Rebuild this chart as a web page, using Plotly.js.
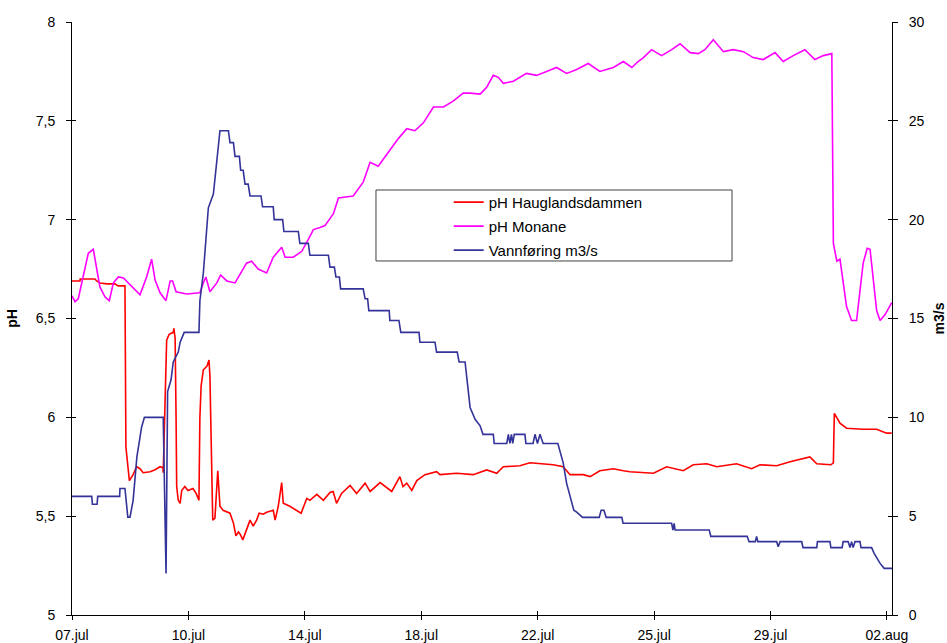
<!DOCTYPE html>
<html>
<head>
<meta charset="utf-8">
<script src="https://cdn.plot.ly/plotly-3.0.1.min.js"></script>
<style>html,body{margin:0;padding:0;background:#fff;}#chart{width:947px;height:643px;}</style>
</head>
<body>
<div id="chart"></div>
<script>
// x values: days since start of record (07.jul, early morning)
const tickDays = [0, 26/7, 52/7, 78/7, 104/7, 130/7, 156/7, 26];
const tickLabels = ["07.jul", "10.jul", "14.jul", "18.jul", "22.jul", "25.jul", "29.jul", "02.aug"];

const phLeftVals = [5, 5.5, 6, 6.5, 7, 7.5, 8];
const phLeftText = ["5", "5,5", "6", "6,5", "7", "7,5", "8"];
const flowVals = [0, 5, 10, 15, 20, 25, 30];

// pH Hauglandsdammen
const haugDays = [0,0.255,0.26,0.73,0.79,0.89,1.12,1.37,1.47,1.69,1.72,1.83,1.95,2.06,2.17,2.27,2.49,2.65,2.81,2.90,2.91,2.99,3.02,3.10,3.23,3.25,3.29,3.32,3.34,3.39,3.45,3.50,3.60,3.70,3.86,3.96,4.05,4.08,4.12,4.19,4.31,4.37,4.40,4.49,4.56,4.65,4.72,4.82,4.94,5.04,5.15,5.23,5.31,5.36,5.45,5.57,5.68,5.78,5.89,5.97,6.10,6.21,6.42,6.48,6.58,6.69,6.74,6.95,7.17,7.31,7.49,7.59,7.81,8.02,8.23,8.33,8.44,8.60,8.87,9.08,9.35,9.51,9.83,9.99,10.20,10.46,10.56,10.68,10.84,11.00,11.26,11.63,11.74,12.27,12.80,13.23,13.55,13.76,14.29,14.61,15.35,15.67,15.89,16.31,16.53,16.84,17.27,17.59,17.80,18.55,18.97,19.50,19.82,20.25,20.57,21.20,21.68,21.95,22.48,22.91,23.54,23.76,24.21,24.29,24.32,24.50,24.71,25.24,25.67,25.99,26.15];
const haugPH = [6.69,6.69,6.70,6.70,6.69,6.68,6.675,6.675,6.665,6.665,5.85,5.68,5.71,5.75,5.74,5.72,5.725,5.735,5.75,5.745,5.72,6.32,6.39,6.42,6.43,6.45,6.40,6.0,5.65,5.58,5.565,5.63,5.65,5.63,5.64,5.615,5.58,6.0,6.16,6.24,6.26,6.29,6.21,5.48,5.49,5.73,5.55,5.53,5.52,5.515,5.465,5.40,5.42,5.41,5.38,5.43,5.48,5.45,5.48,5.515,5.51,5.52,5.53,5.48,5.55,5.67,5.565,5.55,5.53,5.515,5.59,5.58,5.61,5.58,5.62,5.625,5.565,5.615,5.655,5.615,5.667,5.625,5.67,5.65,5.625,5.70,5.65,5.667,5.63,5.68,5.71,5.725,5.71,5.717,5.71,5.734,5.717,5.75,5.755,5.77,5.76,5.75,5.71,5.71,5.70,5.73,5.74,5.73,5.725,5.717,5.75,5.73,5.76,5.765,5.75,5.765,5.74,5.76,5.755,5.775,5.80,5.765,5.76,5.77,6.02,5.97,5.945,5.94,5.94,5.92,5.92];

// pH Monane
const monDays = [0,0.096,0.20,0.36,0.52,0.68,0.79,0.89,1.05,1.19,1.32,1.48,1.64,1.85,2.17,2.38,2.54,2.65,2.81,3.00,3.13,3.21,3.32,3.66,4.08,4.19,4.27,4.40,4.62,4.74,4.94,5.20,5.57,5.73,5.94,6.21,6.42,6.69,6.80,7.06,7.33,7.54,7.70,7.91,8.07,8.34,8.50,8.97,9.29,9.51,9.77,10.04,10.41,10.68,10.94,11.21,11.53,11.85,12.16,12.48,12.70,13.02,13.23,13.44,13.60,13.76,14.08,14.50,14.82,15.14,15.46,15.78,16.10,16.47,16.84,17.27,17.59,17.86,18.06,18.23,18.49,18.81,19.13,19.40,19.72,19.98,20.19,20.46,20.62,20.78,21.10,21.42,21.73,22.05,22.43,22.69,23.01,23.38,23.70,23.97,24.24,24.29,24.40,24.50,24.71,24.87,25.03,25.24,25.37,25.46,25.67,25.78,25.94,26.10,26.15];
const monPH = [6.614,6.585,6.60,6.71,6.83,6.85,6.76,6.66,6.61,6.59,6.68,6.71,6.705,6.67,6.62,6.71,6.80,6.695,6.63,6.59,6.69,6.69,6.635,6.624,6.63,6.68,6.71,6.635,6.68,6.72,6.69,6.68,6.78,6.79,6.75,6.73,6.81,6.86,6.81,6.81,6.84,6.90,6.95,6.96,6.97,7.03,7.11,7.12,7.19,7.29,7.27,7.33,7.41,7.46,7.45,7.49,7.57,7.57,7.60,7.64,7.64,7.635,7.67,7.73,7.72,7.69,7.70,7.74,7.73,7.75,7.77,7.74,7.76,7.79,7.75,7.77,7.80,7.77,7.80,7.82,7.86,7.83,7.86,7.89,7.845,7.84,7.86,7.91,7.88,7.85,7.86,7.85,7.82,7.81,7.845,7.80,7.83,7.86,7.81,7.83,7.84,6.88,6.79,6.80,6.56,6.49,6.49,6.78,6.855,6.85,6.54,6.49,6.52,6.57,6.58];

// Vannføring m3/s
const flowDays = [0,0.63,0.65,0.80,0.82,1.52,1.53,1.69,1.78,1.85,1.95,2.07,2.22,2.31,2.91,3.00,3.05,3.16,3.23,3.39,3.45,3.58,4.05,4.08,4.19,4.35,4.51,4.72,4.99,5.04,5.15,5.20,5.34,5.38,5.46,5.52,5.62,5.68,6.03,6.08,6.42,6.45,6.72,6.76,7.22,7.27,7.54,7.59,8.18,8.23,8.37,8.42,8.53,8.57,9.29,9.35,9.43,9.47,10.12,10.14,10.43,10.49,11.07,11.10,11.58,11.63,12.29,12.35,12.54,12.70,12.86,13.02,13.11,13.44,13.47,13.87,13.92,13.97,14.02,14.06,14.11,14.16,14.45,14.48,14.71,14.77,14.85,14.93,15.03,15.50,15.67,15.78,15.94,16.01,16.10,16.29,16.82,16.88,16.97,17.04,17.54,17.58,19.13,19.17,19.21,19.24,20.33,20.38,21.54,21.60,21.80,21.84,21.88,22.48,22.53,22.59,23.28,23.32,23.76,23.78,24.18,24.21,24.57,24.60,24.76,24.82,24.87,24.92,24.98,25.14,25.17,25.51,25.59,25.69,25.78,25.91,26.16];
const flowVal = [6.0,6.0,5.6,5.6,6.0,6.0,6.4,6.4,4.95,4.95,5.8,8.0,9.5,10.0,10.0,2.1,11.3,11.9,12.8,13.3,13.8,14.3,14.3,15.9,17.3,20.6,21.3,24.5,24.5,23.9,23.9,23.2,23.2,22.5,22.5,21.8,21.8,21.2,21.2,20.65,20.65,20.0,20.0,19.4,19.4,18.8,18.8,18.2,18.2,17.6,17.6,17.1,17.1,16.5,16.5,16.0,16.0,15.4,15.4,14.9,14.9,14.3,14.3,13.8,13.8,13.3,13.3,12.8,12.8,10.5,9.9,9.57,9.14,9.14,8.68,8.68,9.14,8.68,9.14,8.68,9.14,9.14,9.14,8.68,8.68,9.14,8.68,9.14,8.68,8.68,7.7,6.66,5.73,5.3,5.2,4.94,4.94,5.3,5.3,4.94,4.94,4.64,4.64,4.3,4.64,4.3,4.3,3.98,3.98,3.71,3.71,3.98,3.71,3.71,3.45,3.71,3.71,3.41,3.41,3.71,3.71,3.41,3.41,3.71,3.71,3.41,3.71,3.41,3.71,3.71,3.41,3.41,3.12,2.87,2.61,2.36,2.36];

const FONT = "Liberation Sans, Arial, sans-serif";
const xRange = [0, 26.16];

const traces = [
  {x: haugDays, y: haugPH, type: "scatter", mode: "lines", name: "pH Hauglandsdammen",
   line: {color: "#FF0000", width: 1.6}, legendgroup: "a", xaxis: "x", yaxis: "y"},
  {x: monDays, y: monPH, type: "scatter", mode: "lines", name: "pH Monane",
   line: {color: "#FF00FF", width: 1.6}, legendgroup: "b", xaxis: "x", yaxis: "y"},
  {x: flowDays, y: flowVal, type: "scatter", mode: "lines", name: "Vannføring m3/s",
   line: {color: "#333399", width: 1.6}, legendgroup: "c", xaxis: "x", yaxis: "y2"},
  // empty helpers so that the inner-tick axes are drawn
  {x: [], y: [], xaxis: "x2", yaxis: "y3", showlegend: false, hoverinfo: "skip"},
  {x: [], y: [], xaxis: "x2", yaxis: "y4", showlegend: false, hoverinfo: "skip"}
];

const tickFont = {family: FONT, size: 14, color: "#000"};

const layout = {
  width: 947, height: 643,
  margin: {l: 72, r: 55, t: 22, b: 28, pad: 0},
  paper_bgcolor: "#fff", plot_bgcolor: "#fff",
  font: {family: FONT, size: 14, color: "#000"},
  showlegend: true,
  legend: {x: 0.4594, xanchor: "left", y: 0.7237, yanchor: "top",
           bgcolor: "rgba(0,0,0,0)", borderwidth: 0, tracegroupgap: 1.5,
           font: {family: FONT, size: 15, color: "#000"}},
  xaxis: {range: xRange, tickmode: "array", tickvals: tickDays, ticktext: tickLabels,
          ticks: "outside", ticklen: 4, tickwidth: 1, tickcolor: "#000", ticklabelstandoff: 3,
          showline: true, linecolor: "#000", linewidth: 1, showgrid: false, zeroline: false,
          tickfont: tickFont, automargin: false, anchor: "y"},
  xaxis2: {range: xRange, overlaying: "x", anchor: "y", side: "bottom", tickmode: "array", tickvals: tickDays,
           ticks: "inside", ticklen: 4, tickwidth: 1, tickcolor: "#000",
           showticklabels: false, showline: false, showgrid: false, zeroline: false},
  yaxis: {range: [5, 8], tickmode: "array", tickvals: phLeftVals, ticktext: phLeftText,
          ticks: "outside", ticklen: 5, tickwidth: 1, tickcolor: "#000", ticklabelstandoff: 8,
          showline: true, linecolor: "#000", linewidth: 1, showgrid: false, zeroline: false,
          tickfont: tickFont, automargin: false,
          title: {text: "<b>pH</b>", font: {family: FONT, size: 14, color: "#000"}, standoff: 14}},
  yaxis2: {range: [0, 30], overlaying: "y", side: "right", anchor: "x", tickmode: "array", tickvals: flowVals,
           ticks: "outside", ticklen: 5, tickwidth: 1, tickcolor: "#000", ticklabelstandoff: 8,
           showline: true, linecolor: "#000", linewidth: 1, showgrid: false, zeroline: false,
           tickfont: tickFont, automargin: false,
           title: {text: "<b>m3/s</b>", font: {family: FONT, size: 14, color: "#000"}, standoff: 18}},
  yaxis3: {range: [5, 8], overlaying: "y", side: "left", anchor: "x", tickmode: "array", tickvals: phLeftVals,
           ticks: "inside", ticklen: 4, tickwidth: 1, tickcolor: "#000",
           showticklabels: false, showline: false, showgrid: false, zeroline: false},
  yaxis4: {range: [0, 30], overlaying: "y", side: "right", anchor: "x", tickmode: "array", tickvals: flowVals,
           ticks: "inside", ticklen: 4, tickwidth: 1, tickcolor: "#000",
           showticklabels: false, showline: false, showgrid: false, zeroline: false},
  shapes: [
    {type: "rect", xref: "paper", yref: "paper", x0: 0.3707, x1: 0.8049, y0: 0.597, y1: 0.7167,
     line: {color: "#404040", width: 1}, fillcolor: "rgba(255,255,255,1)", layer: "below"}
  ]
};

Plotly.newPlot("chart", traces, layout, {displayModeBar: false, staticPlot: true});
</script>
</body>
</html>
